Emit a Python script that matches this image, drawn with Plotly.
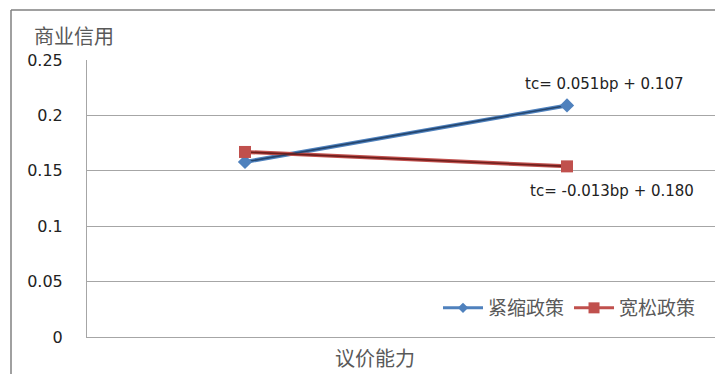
import plotly.graph_objects as go

# Bargaining power levels (x) and trade credit fitted values for each policy regime
bp = [1, 2]
tight_policy = [0.158, 0.209]   # tc = 0.051bp + 0.107
loose_policy = [0.167, 0.154]   # tc = -0.013bp + 0.180
series_names = ["紧缩政策", "宽松政策"]
eq_labels = ["tc= 0.051bp + 0.107", "tc= -0.013bp + 0.180"]
y_ticks = [0, 0.05, 0.1, 0.15, 0.2, 0.25]

W, H = 715, 374
L, T, R, B = 87, 60, 0, 37
pw, ph = W - L - R, H - T - B


def px(x):
    return (x - L) / pw


def py(y):
    return (H - B - y) / ph


BLUE, BLUE_DARK = "#4F81BD", "#24466F"
RED, RED_DARK = "#C0504D", "#6E1E1C"
CJK = "Noto Sans CJK SC"
NUM = "DejaVu Sans"

fig = go.Figure()

# Each line: a wider light stroke with a darker core on top
for ys, light in [(tight_policy, BLUE), (loose_policy, RED)]:
    fig.add_trace(go.Scatter(x=bp, y=ys, mode="lines", showlegend=False,
                             line=dict(color=light, width=4), hoverinfo="skip"))
for ys, light, dark, sym, size in [
    (tight_policy, BLUE, BLUE_DARK, "diamond", 11),
    (loose_policy, RED, RED_DARK, "square", 12),
]:
    fig.add_trace(go.Scatter(x=bp, y=ys, mode="lines+markers", showlegend=False,
                             line=dict(color=dark, width=1.6),
                             marker=dict(symbol=sym, size=size, color=light,
                                         line=dict(width=0))))

# Legend entries
for name, light, sym, size in [
    (series_names[0], BLUE, "diamond", 8),
    (series_names[1], RED, "square", 11),
]:
    fig.add_trace(go.Scatter(x=[None], y=[None], mode="lines+markers", name=name,
                             line=dict(color=light, width=3),
                             marker=dict(symbol=sym, size=size, color=light)))


def label(x, y, text, font, xanchor="center"):
    fig.add_annotation(x=px(x), y=py(y), xref="paper", yref="paper", text=text,
                       showarrow=False, xanchor=xanchor, yanchor="middle", font=font)


# Equation labels
eq_font = dict(family=NUM, size=15, color="#222222")
label(604, 84, eq_labels[0], eq_font)
label(612, 191, eq_labels[1], eq_font)

# Axis titles
title_font = dict(family=CJK, size=20, color="#595959")
label(32, 35, "商业信用", title_font, xanchor="left")
label(375, 357, "议价能力", title_font)

# Outer chart frame (left and top edges)
fig.add_shape(type="line", xref="paper", yref="paper", x0=px(11), x1=px(11),
              y0=py(10), y1=py(380), line=dict(color="#808080", width=1.5))
fig.add_shape(type="line", xref="paper", yref="paper", x0=px(11), x1=px(720),
              y0=py(10), y1=py(10), line=dict(color="#808080", width=1.5))

fig.update_layout(
    width=W, height=H,
    margin=dict(l=L, r=R, t=T, b=B),
    plot_bgcolor="white", paper_bgcolor="white",
    legend=dict(orientation="h", x=px(438), y=py(308), xanchor="left", yanchor="middle",
                font=dict(family=CJK, size=19, color="#595959"),
                bgcolor="rgba(0,0,0,0)", itemwidth=40, tracegroupgap=0),
    xaxis=dict(range=[1 - 158 / 322, 2 + 148 / 322], showgrid=False, zeroline=False,
               showticklabels=False, ticks="", showline=True, linecolor="#A6A6A6",
               linewidth=1),
    yaxis=dict(range=[0, 0.25], tickvals=y_ticks, showgrid=True, gridcolor="#A6A6A6",
               gridwidth=1, zeroline=False, showline=True, linecolor="#A6A6A6",
               linewidth=1, ticks="", ticklabelstandoff=20,
               tickfont=dict(family=NUM, size=16, color="#222222")),
    showlegend=True,
)

fig.write_html("out.html")
